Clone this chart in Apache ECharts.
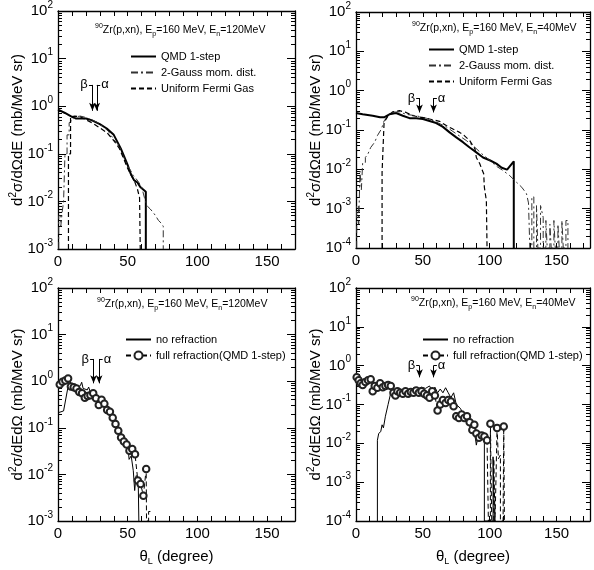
<!DOCTYPE html>
<html><head><meta charset="utf-8">
<script src="https://cdn.jsdelivr.net/npm/echarts@6/dist/echarts.min.js"></script>
<style>html,body{margin:0;padding:0;background:#fff}#c{width:594px;height:570px}</style>
</head><body><div id="c"></div><script>
// ---------- data (theta_L in degree, cross section in mb/MeV sr) ----------
const xTickLabels = [0, 50, 100, 150];

// top-left: 90Zr(p,xn) Ep=160 MeV, En=120 MeV
const tlQMD = [[0,0.85],[5,0.72],[10,0.6],[13,0.55],[20,0.55],[24,0.51],[30,0.42],[35,0.34],[40,0.25],[42.5,0.18],[45,0.13],[47.5,0.087],[50,0.058],[52,0.039],[54.5,0.028],[57,0.025],[59,0.02],[63,0.016],[63,0.001]];
const tlGauss = [[0.5,0.001],[0.5,0.005],[2,0.005],[2,0.003],[3,0.003],[3,0.006],[4,0.006],[4,0.01],[5,0.01],[5,0.1],[6.5,0.1],[6.5,0.25],[8,0.25],[8,0.45],[10,0.5],[13,0.6],[16,0.62],[20,0.58],[24,0.52],[28,0.46],[32,0.38],[36,0.3],[40,0.2],[42,0.17],[44,0.15],[46,0.1],[48,0.075],[50,0.055],[52,0.045],[54,0.035],[56,0.03],[58,0.025],[60,0.02],[62,0.012],[64,0.008],[66,0.007],[68,0.006],[70,0.005],[72,0.004],[74,0.0035],[75.5,0.003],[75.5,0.001]];
const tlUFG = [[7.5,0.001],[7.5,0.1],[9,0.1],[9,0.6],[12,0.62],[16,0.6],[20,0.52],[25,0.44],[30,0.35],[35,0.28],[40,0.19],[44,0.13],[47,0.08],[50,0.049],[53,0.033],[55,0.026],[57,0.018],[58.5,0.012],[59,0.001]];
const tlArrows = [{label:'β', x:24.7, top:2.8, tip:0.8, side:-1},{label:'α', x:27.8, top:2.8, tip:0.8, side:1}];

// top-right: En=40 MeV
const trQMD = [[0,0.27],[5,0.25],[12.5,0.23],[18,0.21],[21,0.21],[25,0.25],[30,0.27],[35,0.23],[40,0.2],[45,0.2],[50,0.19],[55,0.17],[60,0.15],[65,0.12],[70,0.087],[75,0.065],[80,0.049],[85,0.036],[90,0.027],[95,0.02],[100,0.017],[105,0.014],[109,0.011],[113,0.0098],[118,0.016],[118,0.0001]];
const trGauss = [[0.5,0.0001],[0.5,0.0012],[2,0.0012],[2,0.0004],[3,0.0004],[3,0.009],[4,0.009],[4,0.003],[5,0.003],[5,0.015],[7,0.015],[7,0.02],[9,0.025],[11,0.036],[14,0.049],[16,0.072],[19,0.106],[21,0.17],[24,0.23],[26,0.28],[32.5,0.29],[37.5,0.25],[45,0.23],[52.5,0.2],[60,0.16],[67.5,0.12],[75,0.08],[82.5,0.054],[89,0.036],[94,0.025],[100,0.017],[105,0.012],[110,0.0093],[115,0.0069],[120,0.0047],[124,0.0035],[127.5,0.0024],[129,0.0014],[130,0.0014],[130,0.0001],[131.5,0.0001],[131.5,0.002],[133,0.002],[133,0.0001],[135,0.0001],[135,0.0012],[136,0.0012],[136,0.0001],[138,0.0001],[138,0.0012],[140,0.0006],[140,0.0001],[142,0.0001],[142,0.0005],[143,0.0005],[143,0.0001],[145,0.0001],[145,0.0004],[146,0.0004],[146,0.0001],[148,0.0001],[148,0.0005],[149,0.0005],[149,0.0001],[151,0.0001],[151,0.0004],[152,0.0004],[152,0.0001],[154,0.0001],[154,0.0005],[155,0.0005],[155,0.0001],[157,0.0001],[157,0.0005],[158.5,0.0005],[158.5,0.0001]];
const trUFG = [[19.5,0.0001],[19.5,0.0084],[21,0.157],[24,0.23],[27.5,0.29],[32.5,0.31],[37.5,0.28],[42.5,0.23],[49,0.21],[55,0.19],[62.5,0.166],[67.5,0.13],[72.5,0.106],[77.5,0.087],[81,0.072],[85,0.054],[89,0.033],[90,0.02],[92.5,0.014],[95.5,0.0077],[96,0.0035],[97.5,0.0016],[98,0.0001]];
const trArrows = [{label:'β', x:47.5, top:0.65, tip:0.28, side:-1},{label:'α', x:58, top:0.65, tip:0.28, side:1}];

// bottom-left: En=120 MeV, d2σ/dEdΩ
const blNoRef = [[0,0.21],[4,0.23],[7.5,0.85],[8.5,1.05],[10,0.72],[13.5,0.74],[16,0.8],[17,0.95],[18,0.7],[21,0.65],[22,0.75],[23,0.6],[25,0.52],[28.5,0.48],[31,0.4],[33.5,0.32],[36,0.25],[38.5,0.19],[41,0.14],[43.5,0.1],[46,0.067],[48.5,0.052],[50,0.045],[51,0.021],[52.5,0.025],[54,0.012],[55,0.0045],[56,0.0094],[57.5,0.0086],[58,0.001]];
const blFull = [[1.25,0.85],[3.25,0.97],[5.25,1.03],[7.25,1.14],[9.25,0.77],[11.25,0.74],[13.25,0.7],[15.25,0.59],[17.25,0.55],[19.25,0.44],[21.25,0.48],[23.25,0.5],[25.25,0.55],[27.25,0.43],[29.25,0.31],[31.25,0.4],[33.25,0.33],[35.25,0.24],[37.25,0.22],[39.25,0.165],[41.25,0.12],[43.25,0.086],[45.25,0.062],[47.25,0.051],[49.25,0.044],[51.25,0.032],[53.25,0.035],[55.25,0.027],[57.25,0.0074],[59.25,0.0062],[61.25,0.0035],[63.25,0.013]];
const blFullTail = [[63.5,0.001],[65,0.001],[65,0.0016],[66.5,0.0016]];
const blArrows = [{label:'β', x:25.5, top:3.0, tip:0.9, side:-1},{label:'α', x:29.5, top:3.0, tip:0.9, side:1}];

// bottom-right: En=40 MeV
const brNoRef = [[16,0.0001],[16,0.012],[17,0.018],[18.5,0.02],[19.5,0.03],[20.5,0.025],[22,0.05],[24,0.1],[26,0.2],[27.5,0.15],[29,0.25],[31,0.2],[34,0.22],[37,0.26],[40,0.22],[43,0.27],[46,0.25],[49,0.28],[52,0.26],[55,0.3],[57,0.22],[59,0.28],[61,0.2],[63,0.25],[65,0.2],[67,0.27],[69,0.2],[71,0.15],[73,0.2],[75,0.1],[78,0.08],[80,0.06],[82,0.05],[84,0.035],[86,0.022],[88,0.03],[90,0.009],[92,0.02],[94,0.015],[96,0.013],[96,0.0001],[102.5,0.0001],[102.5,0.0045],[103.5,0.0045],[103.5,0.0001]];
const brFull = [[0.5,0.5],[2,0.42],[3.5,0.35],[5,0.32],[7,0.38],[9,0.42],[11,0.45],[12.5,0.22],[14,0.3],[16,0.27],[18,0.35],[20,0.28],[22,0.3],[24,0.32],[26,0.3],[28,0.2],[29.5,0.17],[31,0.22],[33,0.2],[35,0.19],[37,0.22],[39,0.19],[41,0.21],[43,0.2],[45,0.23],[47,0.2],[49,0.22],[51,0.19],[53,0.17],[55,0.15],[57,0.22],[59,0.17],[61,0.07],[63,0.1],[65,0.13],[67,0.11],[69,0.13],[71,0.12],[73,0.09],[75,0.05],[77,0.045],[79,0.055],[81,0.045],[83,0.05],[85,0.035],[87,0.022],[88.5,0.03],[90,0.018],[92,0.014],[94,0.016],[96,0.015],[98,0.012]];
const brFullTail = [[99,0.0001],[100.5,0.0001],[100.5,0.032],[101.5,0.0001],[103,0.0001],[103,0.004],[104,0.004],[104,0.0001],[105,0.0001],[105.5,0.025],[106.5,0.004],[108,0.005],[108,0.0001],[110,0.0001],[110.5,0.027],[111,0.0001]];
const brArrows = [{label:'β', x:47.5, top:1.0, tip:0.5, side:-1},{label:'α', x:58, top:1.0, tip:0.5, side:1}];

// ---------- chart ----------
const FONT = "'Liberation Sans', Arial, Helvetica, sans-serif";
const BLACK = '#000';
const titleRich = {
  m:{fontSize:10.5, lineHeight:15, fontFamily:FONT, color:BLACK},
  s:{fontSize:7, lineHeight:7, verticalAlign:'top', fontFamily:FONT, color:BLACK},
  b:{fontSize:7, lineHeight:7, verticalAlign:'bottom', fontFamily:FONT, color:BLACK}
};
const reaction = en => '{s|90}{m|Zr(p,xn), E}{b|p}{m|=160 MeV, E}{b|n}{m|=' + en + 'MeV}';
const yNameTop = 'd{e|2}σ/dΩdE (mb/MeV sr)';
const yNameBot = 'd{e|2}σ/dEdΩ (mb/MeV sr)';

const S = {
  qmd:  {name:'QMD 1-step', lineStyle:{color:BLACK, width:2, type:'solid'}},
  gauss:{name:'2-Gauss mom. dist.', lineStyle:{color:'#333', width:1, type:[7,3,2,3]}},
  ufg:  {name:'Uniform Fermi Gas', lineStyle:{color:BLACK, width:1.2, type:[5,3]}},
  noref:{name:'no refraction', lineStyle:{color:BLACK, width:1, type:'solid'}},
  full: {name:'full refraction(QMD 1-step)', lineStyle:{color:BLACK, width:1, type:[5,3]}, circles:true}
};

const panels = [
  {grid:{left:58, top:11, width:237, height:238}, xmax:170, yr:[1e-3,1e2], yName:yNameTop, xName:'',
   title:{text:reaction(120), left:95, top:23}, legend:{left:130, top:51},
   series:[[S.qmd, tlQMD],[S.gauss, tlGauss],[S.ufg, tlUFG]], arrows:tlArrows},
  {grid:{left:356, top:12, width:234, height:236}, xmax:175, yr:[1e-4,1e2], yName:yNameTop, xName:'',
   title:{text:reaction(40), left:412, top:21}, legend:{left:428, top:44},
   series:[[S.qmd, trQMD],[S.gauss, trGauss],[S.ufg, trUFG]], arrows:trArrows},
  {grid:{left:58, top:288, width:237, height:233}, xmax:170, yr:[1e-3,1e2], yName:yNameBot, xName:'θ{l|L} (degree)',
   title:{text:reaction(120), left:97, top:297}, legend:{left:125, top:334},
   series:[[S.noref, blNoRef],[S.full, blFull, blFullTail]], arrows:blArrows},
  {grid:{left:356, top:288, width:234, height:233}, xmax:175, yr:[1e-4,1e2], yName:yNameBot, xName:'θ{l|L} (degree)',
   title:{text:reaction(40), left:411, top:296}, legend:{left:422, top:334},
   series:[[S.noref, brNoRef],[S.full, brFull, brFullTail]], arrows:brArrows}
];

function minorVals(lo, hi){ const a=[]; for(let n=lo;n<hi;n++) for(let k=2;k<=9;k++) a.push(n+Math.log10(k)); return a; }

const option = {animation:false, backgroundColor:'#fff', grid:[], xAxis:[], yAxis:[], series:[], legend:[], title:[]};
const lineAx = {color:BLACK, width:1.3};
const tickSt = {color:BLACK, width:1};
panels.forEach((p, g) => {
  option.grid.push(p.grid);
  const xb = {type:'value', gridIndex:g, min:0, max:p.xmax, interval:10, splitLine:{show:false},
    axisLine:{onZero:false, lineStyle:lineAx}, axisTick:{inside:true, length:5, lineStyle:tickSt}};
  const xi = option.xAxis.length;
  option.xAxis.push(Object.assign({}, xb, {position:'bottom',
    axisLabel:{formatter:v => xTickLabels.indexOf(v) >= 0 ? String(v) : '', fontSize:15, color:BLACK, margin:5, fontFamily:FONT},
    name:p.xName, nameLocation:'middle', nameGap:27, nameMoveOverlap:false,
    nameTextStyle:{fontSize:15, color:BLACK, fontFamily:FONT, lineHeight:18,
      rich:{l:{fontSize:9, lineHeight:9, verticalAlign:'bottom', fontFamily:FONT, color:BLACK}}}}));
  option.xAxis.push(Object.assign({}, xb, {position:'top', axisLabel:{show:false}}));
  const lo = Math.round(Math.log10(p.yr[0])), hi = Math.round(Math.log10(p.yr[1]));
  const yi = option.yAxis.length;
  option.yAxis.push({type:'log', logBase:10, gridIndex:g, min:p.yr[0], max:p.yr[1], show:false});
  const yb = {type:'value', gridIndex:g, min:lo, max:hi, interval:1, splitLine:{show:false}};
  option.yAxis.push(Object.assign({}, yb, {position:'left', axisLine:{show:true, onZero:false, lineStyle:lineAx},
    axisTick:{inside:true, length:8, lineStyle:tickSt},
    axisLabel:{formatter:v => '{b|10}{e|' + v + '}', margin:5,
      rich:{b:{fontSize:15, lineHeight:22, fontFamily:FONT, color:BLACK},
            e:{fontSize:10, lineHeight:10, verticalAlign:'top', fontFamily:FONT, color:BLACK}}},
    name:p.yName, nameLocation:'middle', nameGap:30, nameMoveOverlap:false,
    nameTextStyle:{fontSize:15, lineHeight:20, color:BLACK, fontFamily:FONT,
      rich:{e:{fontSize:10, lineHeight:10, verticalAlign:'top', fontFamily:FONT, color:BLACK}}}}));
  option.yAxis.push(Object.assign({}, yb, {position:'left', axisLine:{show:false, onZero:false},
    axisTick:{inside:true, length:4, lineStyle:tickSt, customValues:minorVals(lo,hi)}, axisLabel:{show:false}}));
  option.yAxis.push(Object.assign({}, yb, {position:'right', axisLine:{show:true, onZero:false, lineStyle:lineAx},
    axisTick:{inside:true, length:8, lineStyle:tickSt}, axisLabel:{show:false}}));
  option.yAxis.push(Object.assign({}, yb, {position:'right', axisLine:{show:false, onZero:false},
    axisTick:{inside:true, length:4, lineStyle:tickSt, customValues:minorVals(lo,hi)}, axisLabel:{show:false}}));

  const legendData = [];
  p.series.forEach(([st, pts, tail], k) => {
    legendData.push(st.circles ? {name:st.name} : {name:st.name, itemStyle:{opacity:0}});
    let data = pts.map(v => ({value:v}));
    if (tail) data = data.concat(tail.map(v => ({value:v, symbol: v[1] > 0.01 ? 'emptyCircle' : 'none'})));
    const s = {type:'line', name:st.name, xAxisIndex:xi, yAxisIndex:yi, data:data,
      symbol: st.circles ? 'emptyCircle' : 'none', symbolSize:6.5, showSymbol:!!st.circles,
      lineStyle:st.lineStyle, itemStyle:{color:'#222', borderWidth:1}, z:3, clip:true, silent:true};
    if (k === 0) {
      const ml = [], mp = [];
      p.arrows.forEach(a => {
        ml.push([{coord:[a.x, a.top], symbol:'none'}, {coord:[a.x, a.tip], symbol:'arrow'}]);
        ml.push([{coord:[a.x + a.side*2.5, a.top], symbol:'none'}, {coord:[a.x, a.top], symbol:'none'}]);
        mp.push({name:a.label, coord:[a.x + a.side*6, a.top]});
      });
      s.markLine = {silent:true, symbolSize:[5,8], label:{show:false}, lineStyle:{color:BLACK, width:1, type:'solid'}, data:ml};
      s.markPoint = {silent:true, symbol:'circle', symbolSize:1, itemStyle:{color:'rgba(0,0,0,0)'},
        label:{show:true, position:'inside', formatter:'{b}', fontSize:13, color:BLACK, fontFamily:FONT}, data:mp};
    }
    option.series.push(s);
  });
  option.legend.push({data:legendData, left:p.legend.left, top:p.legend.top, orient:'vertical', itemWidth:25, itemHeight:10,
    itemGap:5, padding:0, selectedMode:false, textStyle:{fontSize:11, color:BLACK, fontFamily:FONT}});
  option.title.push({text:p.title.text, left:p.title.left, top:p.title.top, padding:0,
    textStyle:{fontSize:10.5, fontWeight:'normal', color:BLACK, fontFamily:FONT, rich:titleRich}});
});

const chart = echarts.init(document.getElementById('c'), null, {renderer:'canvas'});
chart.setOption(option);
</script></body></html>
